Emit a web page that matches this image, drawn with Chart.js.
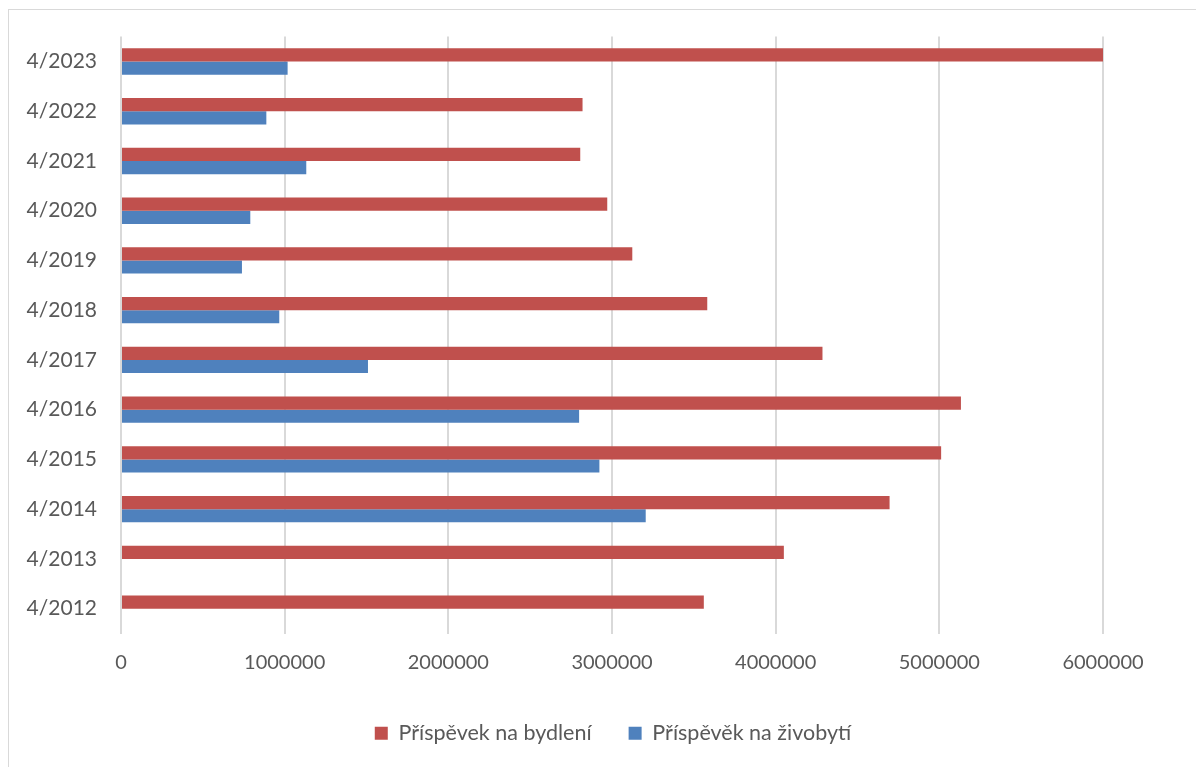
<!DOCTYPE html>
<html>
<head>
<meta charset="utf-8">
<script src="https://cdn.jsdelivr.net/npm/chart.js@4"></script>
<style>
  html, body { margin: 0; padding: 0; background: #fff; }
  #wrap { position: absolute; left: 0; top: 0; width: 1196px; height: 767px; }
  #frame { position: absolute; left: 8px; top: 9px; width: 1200px; height: 800px; border: 1px solid #d9d9d9; box-sizing: border-box; }
  canvas { position: absolute; left: 0; top: 0; }
</style>
</head>
<body>
<div id="wrap">
  <div id="frame"></div>
  <canvas id="c" width="1196" height="767"></canvas>
</div>
<script>
const categories = ['4/2012','4/2013','4/2014','4/2015','4/2016','4/2017','4/2018','4/2019','4/2020','4/2021','4/2022','4/2023'];
const bydleni = [3561000, 4050000, 4696000, 5011000, 5132000, 4286000, 3582000, 3124000, 2971000, 2806000, 2820000, 6008000];
const zivobyti = [null, null, 3206000, 2923000, 2799000, 1509000, 967000, 739000, 790000, 1132000, 888000, 1018000];
const xTicks = [0, 1000000, 2000000, 3000000, 4000000, 5000000, 6000000];
const seriesNames = ['Příspěvek na bydlení', 'Příspěvěk na živobytí'];

const FONT = 'Lato, "Open Sans", sans-serif';
const TXT = '#595959';
const GRID = '#d9d9d9';

new Chart(document.getElementById('c'), {
  type: 'bar',
  data: {
    labels: categories,
    datasets: [
      { label: seriesNames[0], data: bydleni, backgroundColor: '#C0504D', borderWidth: 0 },
      { label: seriesNames[1], data: zivobyti, backgroundColor: '#4F81BD', borderWidth: 0 }
    ]
  },
  options: {
    indexAxis: 'y',
    responsive: false,
    animation: false,
    maintainAspectRatio: false,
    datasets: { bar: { categoryPercentage: 0.53, barPercentage: 1.0 } },
    layout: { padding: { top: 36, right: -30, left: 0, bottom: 13 } },
    scales: {
      x: {
        min: 0, max: 6000000,
        afterBuildTicks: (s) => { s.ticks = xTicks.map(v => ({ value: v })); },
        afterFit: (s) => { s.height = 52; s.paddingRight = 93; },
        grid: { color: GRID, lineWidth: 2, drawTicks: false },
        border: { display: false },
        ticks: { color: TXT, font: { family: FONT, size: 20 }, padding: 17, maxRotation: 0,
                 callback: (v) => String(v) }
      },
      y: {
        reverse: true,
        afterFit: (s) => { s.width = 121; },
        grid: { display: false, drawTicks: false },
        border: { display: false },
        ticks: { color: TXT, font: { family: FONT, size: 21 }, padding: 24 }
      }
    },
    plugins: {
      tooltip: { enabled: false },
      legend: {
        position: 'bottom',
        labels: { color: TXT, font: { family: FONT, size: 21.5 }, boxWidth: 13, boxHeight: 13, padding: 37 }
      }
    }
  }
});
</script>
</body>
</html>
